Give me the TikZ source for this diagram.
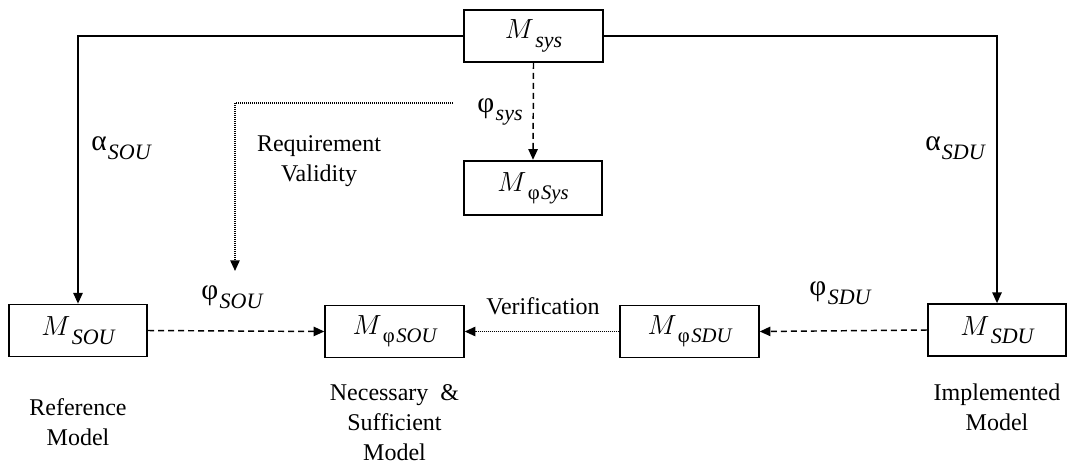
\documentclass[tikz,border=0pt]{standalone}
\usepackage{fontspec}
\setmainfont{Liberation Serif}
\usetikzlibrary{arrows.meta}
\newcommand{\subx}[1]{\raisebox{-0.3em}{\fontsize{16.5}{16.5}\selectfont\itshape #1}}
\newcommand{\Mx}[1]{$M$\kern1pt\subx{#1}}
\newcommand{\Mphi}[1]{$M$\kern1pt\raisebox{-0.3em}{\fontsize{15.5}{15.5}\selectfont\upshape φ\kern1pt\itshape #1}}
\tikzset{
  mbox/.style={draw, line width=1.3pt, minimum width=104pt, minimum height=39pt, inner sep=0pt,
    font=\fontsize{21}{24}\selectfont},
  lbl/.style={inner sep=0pt, font=\fontsize{22}{24}\selectfont},
  txt/.style={inner sep=0pt, align=center, font=\fontsize{18}{22.5}\selectfont},
  conn/.style={line width=1.1pt, -{Triangle[length=8pt,width=7pt]}},
  dsh/.style={conn, dash pattern=on 4.5pt off 3pt},
  dtt/.style={conn, line width=1.2pt, dash pattern=on 0.75pt off 0.75pt}
}
\begin{document}
\begin{tikzpicture}[x=0.75pt,y=-0.75pt]
\useasboundingbox (0,0) rectangle (1070,471);
% boxes
\node[mbox] (sys) at (533.5,36) {\Mx{sys}};
\node[mbox, minimum height=41pt] (phisys) at (533,188) {\Mphi{Sys}};
\node[mbox] (sou) at (78,330.5) {\Mx{SOU}};
\node[mbox] (phisou) at (394.5,331.5) {\Mphi{SOU}};
\node[mbox] (phisdu) at (689.5,331.5) {\Mphi{SDU}};
\node[mbox] (sdu) at (997,330) {\Mx{SDU}};
% labels
\node[lbl] (lsys) at (500,112) {φ\kern1pt\subx{sys}};
\node[lbl] (lasou) at (121,148) {α\kern1pt\subx{SOU}};
\node[lbl] (lasdu) at (955,148) {α\kern1pt\subx{SDU}};
\node[lbl] (lsou) at (232,297) {φ\kern1pt\subx{SOU}};
\node[lbl] (lsdu) at (840,293) {φ\kern1pt\subx{SDU}};
\node[txt] (req) at (319,161) {Requirement\\Validity};
\node[txt] (ver) at (543,306) {Verification};
\node[txt] (tref) at (78,422) {Reference\\Model};
\node[txt] (tnec) at (394.5,423) {Necessary~~\&\\Sufficient\\Model};
\node[txt] (timp) at (997,407) {Implemented\\Model};
% connectors
\draw[conn] (sys.west) -| (sou.north);
\draw[conn] (sys.east) -| (sdu.north);
\draw[dsh] (sys.south) -- (phisys.north);
\coordinate (rvs) at (453,103);
\coordinate (rve) at (235,271);
\draw[dtt] (rvs) -| (rve);
\draw[dsh] (sou.east) -- (phisou.west);
\draw[dtt] (phisdu.west) -- (phisou.east);
\draw[dsh] (sdu.west) -- (phisdu.east);
\end{tikzpicture}
\end{document}
